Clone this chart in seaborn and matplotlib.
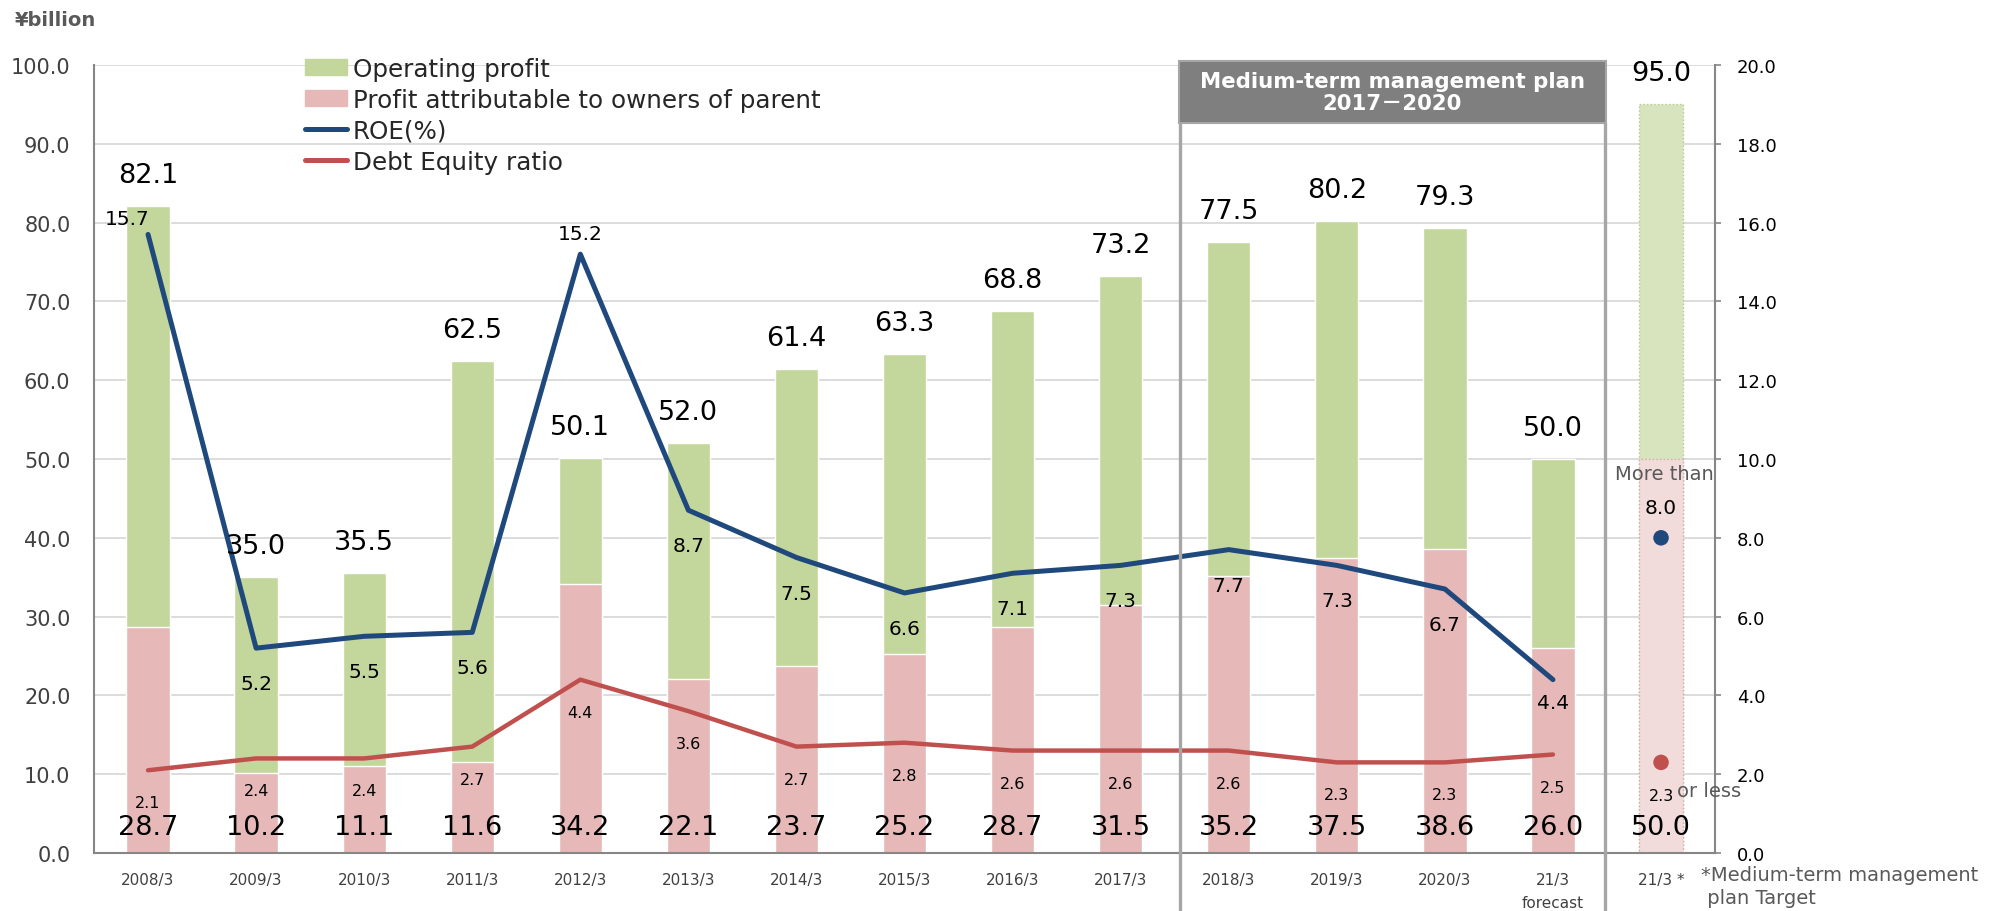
import numpy as np
import matplotlib.pyplot as plt
import matplotlib.transforms as mtransforms
from matplotlib.patches import Rectangle, Patch
from matplotlib.lines import Line2D
import seaborn as sns

periods = ["2008/3", "2009/3", "2010/3", "2011/3", "2012/3", "2013/3", "2014/3",
           "2015/3", "2016/3", "2017/3", "2018/3", "2019/3", "2020/3",
           "21/3\nforecast", "21/3 *"]
operating_profit = [82.1, 35.0, 35.5, 62.5, 50.1, 52.0, 61.4, 63.3, 68.8, 73.2,
                    77.5, 80.2, 79.3, 50.0, 95.0]
net_profit = [28.7, 10.2, 11.1, 11.6, 34.2, 22.1, 23.7, 25.2, 28.7, 31.5,
              35.2, 37.5, 38.6, 26.0, 50.0]
roe = [15.7, 5.2, 5.5, 5.6, 15.2, 8.7, 7.5, 6.6, 7.1, 7.3, 7.7, 7.3, 6.7, 4.4]
de_ratio = [2.1, 2.4, 2.4, 2.7, 4.4, 3.6, 2.7, 2.8, 2.6, 2.6, 2.6, 2.3, 2.3, 2.5]
roe_target = 8.0
de_target = 2.3

GREEN, PINK = "#c3d69b", "#e6b9b8"
GREEN_T, PINK_T = "#d7e4bd", "#f2dcdb"
BLUE, RED = "#1f497d", "#c0504d"
FRAME = "#a6a6a6"

sns.set_style("white")
plt.rcParams['font.family'] = ['DejaVu Sans', 'Noto Sans CJK JP']

fig = plt.figure(figsize=(20.13, 9.12), dpi=100)
ax = fig.add_axes([0.0467, 0.0636, 0.8053, 0.864])
n = len(periods)

# bars: operating profit behind, net profit in front (not stacked)
sns.barplot(x=periods, y=operating_profit, hue=periods,
            palette=[GREEN] * (n - 1) + [GREEN_T], width=0.4, saturation=1,
            errorbar=None, legend=False, ax=ax)
sns.barplot(x=periods, y=net_profit, hue=periods,
            palette=[PINK] * (n - 1) + [PINK_T], width=0.4, saturation=1,
            errorbar=None, legend=False, ax=ax)
for p in ax.patches:
    if abs(p.get_x() + p.get_width() / 2 - (n - 1)) < 0.01:
        edge = "#b5c98f" if p.get_facecolor()[1] > 0.88 else "#d9a9a7"
        p.set_edgecolor(edge)
        p.set_linestyle(":")
        p.set_linewidth(1)

ax.set_xlim(-0.5, n - 0.5)
ax.set_ylim(0, 100)
ax.set_yticks(np.arange(0, 101, 10))
ax.set_yticklabels([f"{v:.1f}" for v in np.arange(0, 101, 10)])
ax.yaxis.grid(True, color="#d9d9d9", lw=1.3)
ax.set_axisbelow(True)
ax.set_xlabel("")
ax.set_ylabel("")
for s in ["top", "right"]:
    ax.spines[s].set_visible(False)
for s in ["left", "bottom"]:
    ax.spines[s].set_color("#868686")
    ax.spines[s].set_linewidth(1.5)
ax.tick_params(axis="y", length=0, pad=17, labelsize=15, labelcolor="#404040")
ax.tick_params(axis="x", length=0, pad=14, labelsize=11, labelcolor="#404040")
for lab in ax.get_xticklabels():
    lab.set_linespacing(1.6)

# right axis: ROE and D/E
ax2 = ax.twinx()
ax2.set_ylim(0, 20)
ax2.set_yticks(np.arange(0, 21, 2))
ax2.set_yticklabels([f"{v:.1f}" for v in np.arange(0, 21, 2)])
for s in ["top", "left", "bottom"]:
    ax2.spines[s].set_visible(False)
ax2.spines["right"].set_color("#868686")
ax2.spines["right"].set_linewidth(1.5)
ax2.tick_params(axis="y", length=4.5, width=1.2, color="#868686", pad=11,
                labelsize=13, labelcolor="black")

xs = np.arange(len(roe))
sns.lineplot(x=xs, y=roe, ax=ax2, color=BLUE, lw=3.6, solid_capstyle="round", zorder=3)
sns.lineplot(x=xs, y=de_ratio, ax=ax2, color=RED, lw=3.2, solid_capstyle="round", zorder=3)
sns.scatterplot(x=[n - 1], y=[roe_target], ax=ax2, color=BLUE, s=125, edgecolor="none", zorder=4)
sns.scatterplot(x=[n - 1], y=[de_target], ax=ax2, color=RED, s=125, edgecolor="none", zorder=4)
ax2.set_ylabel("")


def label(x, y, text, dx, dy, size, color="black", trans=None, ha="center"):
    ax2.annotate(text, (x, y), xycoords=trans if trans is not None else ax2.transData,
                 xytext=(dx, dy), textcoords="offset pixels", ha=ha, va="baseline",
                 fontsize=size, color=color, zorder=6)


# bar value labels
for i, v in enumerate(operating_profit):
    label(i, v, f"{v:.1f}", 0, 24, 19.5, trans=ax.transData)
for i, v in enumerate(net_profit):
    label(i, 0, f"{v:.1f}", 0, 19, 19.5, trans=ax.transData)

# ROE labels (peaks above, others below)
roe_offsets = {0: (-21, 10), 4: (0, 15), 13: (0, -28)}
for i, v in enumerate(roe):
    dx, dy = roe_offsets.get(i, (0, -41))
    label(i, v, f"{v:.1f}", dx, dy, 14.5)
for i, v in enumerate(de_ratio):
    label(i, v, f"{v:.1f}", 0, -37, 11.5)

# target annotations
label(n - 1, roe_target, f"{roe_target:.1f}", 0, 25, 14.5)
label(n - 1, roe_target, "More than", 3, 59, 14, color="#595959")
label(n - 1, de_target, f"{de_target:.1f}", 0, -38, 11.5)
label(n - 1, de_target, "or less", 16, -34, 14, color="#595959", ha="left")

# medium-term plan frame
bt = mtransforms.blended_transform_factory(ax.transData, ax.transAxes)
for xv in [9.55, 13.48]:
    ax2.add_line(Line2D([xv, xv], [-0.09, 0.926], transform=bt, color=FRAME,
                        lw=2.4, clip_on=False, zorder=5))
ax2.add_patch(Rectangle((9.535, 0.926), 13.495 - 9.535, 1.005 - 0.926, transform=bt,
                        facecolor="#7f7f7f", edgecolor=FRAME, lw=1.5,
                        clip_on=False, zorder=5))
ax2.text(11.515, 0.9655, "Medium-term management plan\n2017－2020", transform=bt,
         ha="center", va="center", color="white", fontsize=15.3, fontweight="bold",
         linespacing=1.15, zorder=6, clip_on=False)

# legend
handles = [Patch(color=GREEN), Patch(color=PINK),
           Line2D([], [], color=BLUE, lw=3.6), Line2D([], [], color=RED, lw=3.6)]
names = ["Operating profit", "Profit attributable to owners of parent",
         "ROE(%)", "Debt Equity ratio"]
fig.legend(handles, names, loc="upper left", bbox_to_anchor=(305 / 2013, 1 - 58 / 912),
           frameon=False, fontsize=17.7, handlelength=1.69, handleheight=0.62,
           handletextpad=0.25, labelspacing=0.28, borderpad=0, borderaxespad=0)

fig.text(15 / 2013, 1 - 21 / 912, "¥billion", fontsize=14, fontweight="bold",
         color="#595959", va="center", ha="left")
fig.text(1701 / 2013, 1 - 866 / 912, "*Medium-term management\n plan Target",
         fontsize=14, color="#595959", va="top", ha="left", linespacing=1.3)

fig.savefig("out.png", dpi=100)
